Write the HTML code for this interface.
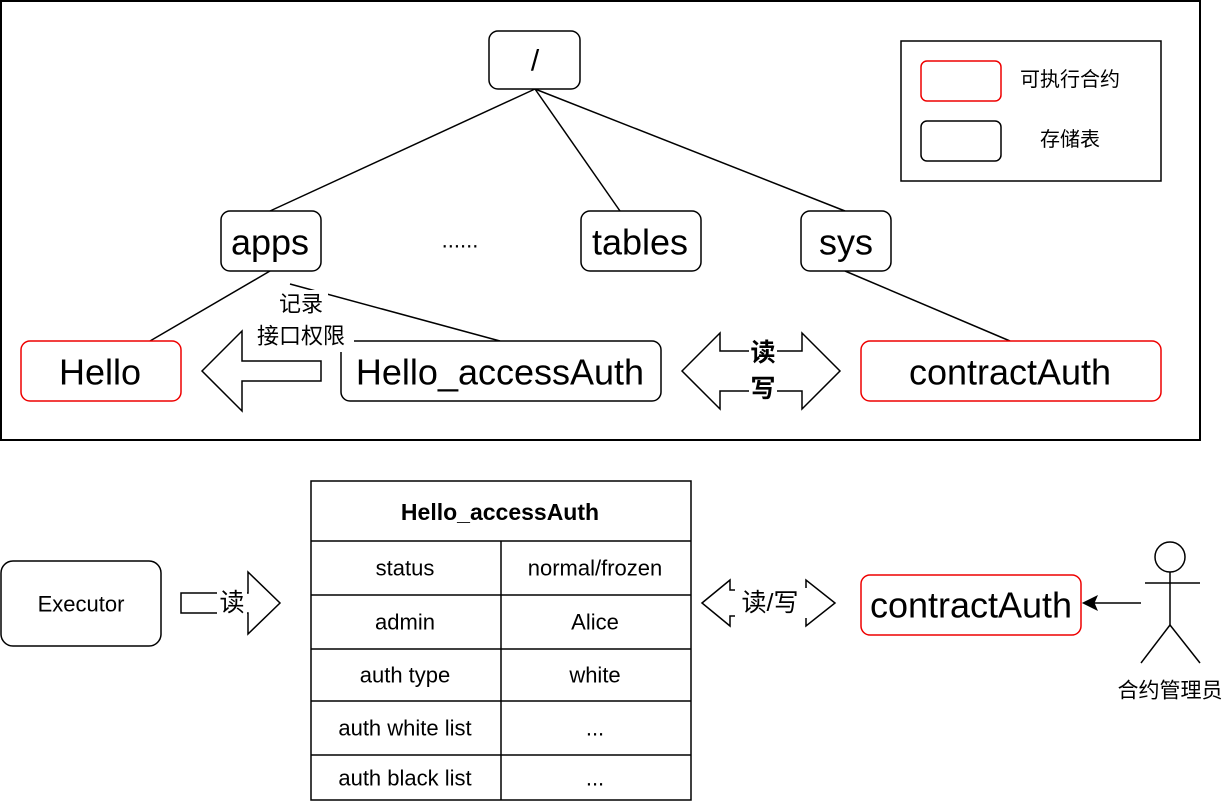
<!DOCTYPE html>
<html><head><meta charset="utf-8"><style>body{margin:0;background:#fff}svg{display:block}text{font-family:"Liberation Sans","Noto Sans CJK SC",sans-serif;fill:#000}</style></head><body>
<svg width="1232" height="802" viewBox="0 0 1232 802" xmlns="http://www.w3.org/2000/svg">
<g fill="none" stroke="#000" stroke-width="1.5">
<rect x="1" y="1" width="1199" height="439" stroke-width="2"/>
<line x1="535" y1="89" x2="270" y2="211"/>
<line x1="535" y1="89" x2="620" y2="211"/>
<line x1="535" y1="89" x2="845" y2="211"/>
<line x1="270" y1="271" x2="150" y2="341"/>
<line x1="290" y1="284" x2="500" y2="341"/>
<line x1="845" y1="271" x2="1010" y2="341"/>
<rect x="489" y="31" width="91" height="58" rx="9" fill="#fff"/>
<rect x="901" y="41" width="260" height="140"/>
<rect x="921" y="61" width="80" height="40" rx="6" stroke="#e00"/>
<rect x="921" y="121" width="80" height="40" rx="6"/>
<rect x="221" y="211" width="100" height="60" rx="9" fill="#fff"/>
<rect x="581" y="211" width="120" height="60" rx="9" fill="#fff"/>
<rect x="801" y="211" width="90" height="60" rx="9" fill="#fff"/>
<rect x="21" y="341" width="160" height="60" rx="9" stroke="#e00" fill="#fff"/>
<rect x="341" y="341" width="320" height="60" rx="9" fill="#fff"/>
<rect x="861" y="341" width="300" height="60" rx="9" stroke="#e00" fill="#fff"/>
<polygon points="202,371 242,331 242,361 321,361 321,381 242,381 242,411" fill="#fff"/>
<polygon points="682,371 720,333 720,351 802,351 802,333 840,371 802,409 802,391 720,391 720,409" fill="#fff"/>
<rect x="1" y="561" width="160" height="85" rx="12"/>
<polygon points="181,593 248,593 248,572 280,603 248,634 248,613 181,613" fill="#fff"/>
<rect x="311" y="481" width="380" height="319"/>
<line x1="311" y1="541" x2="691" y2="541"/><line x1="311" y1="595" x2="691" y2="595"/>
<line x1="311" y1="649" x2="691" y2="649"/><line x1="311" y1="701" x2="691" y2="701"/>
<line x1="311" y1="755" x2="691" y2="755"/><line x1="501" y1="541" x2="501" y2="800"/>
<polygon points="702,603 730,580 730,590 806,590 806,580 835,603 806,626 806,616 730,616 730,626" fill="#fff"/>
<rect x="861" y="575" width="220" height="60" rx="9" stroke="#e00"/>
<line x1="1141" y1="603" x2="1094" y2="603"/>
<circle cx="1170" cy="557" r="15"/>
<line x1="1170" y1="572" x2="1170" y2="625"/><line x1="1145" y1="583" x2="1200" y2="583"/>
<line x1="1170" y1="625" x2="1141" y2="663"/><line x1="1170" y1="625" x2="1200" y2="663"/>
</g>
<polygon points="1083,603 1097,596 1094,603 1097,610" fill="#000" stroke="#000"/>
<rect x="276" y="290" width="52" height="28" fill="#fff"/>
<rect x="248" y="320" width="106" height="32" fill="#fff"/>
<rect x="749" y="340" width="28" height="28" fill="#fff"/>
<rect x="749" y="376" width="28" height="28" fill="#fff"/>
<rect x="217" y="592" width="30" height="24" fill="#fff"/>
<rect x="735" y="588" width="72" height="30" fill="#fff"/>
<g text-anchor="middle" dominant-baseline="central">
<text x="535" y="61" font-size="30">/</text>
<text x="1070" y="80" font-size="20">可执行合约</text>
<text x="1070" y="140" font-size="20">存储表</text>
<text x="270" y="242" font-size="36">apps</text>
<text x="460" y="240" font-size="22">......</text>
<text x="640" y="242" font-size="36">tables</text>
<text x="846" y="242" font-size="36">sys</text>
<text x="100" y="372" font-size="36">Hello</text>
<text x="500" y="372" font-size="36">Hello_accessAuth</text>
<text x="1010" y="372" font-size="36">contractAuth</text>
<text x="301" y="304" font-size="22">记录</text>
<text x="301" y="336" font-size="22">接口权限</text>
<text x="763" y="353" font-size="25" font-weight="bold">读</text>
<text x="763" y="389" font-size="25" font-weight="bold">写</text>
<text x="81" y="604" font-size="22">Executor</text>
<text x="232" y="603" font-size="25">读</text>
<text x="500" y="512" font-size="23" font-weight="bold">Hello_accessAuth</text>
<text x="405" y="568" font-size="22">status</text><text x="595" y="568" font-size="22">normal/frozen</text>
<text x="405" y="622" font-size="22">admin</text><text x="595" y="622" font-size="22">Alice</text>
<text x="405" y="675" font-size="22">auth type</text><text x="595" y="675" font-size="22">white</text>
<text x="405" y="728" font-size="22">auth white list</text><text x="595" y="728" font-size="22">...</text>
<text x="405" y="778" font-size="22">auth black list</text><text x="595" y="778" font-size="22">...</text>
<text x="770" y="603" font-size="25">读/写</text>
<text x="971" y="605" font-size="36">contractAuth</text>
<text x="1170" y="691" font-size="21">合约管理员</text>
</g>
</svg>
</body></html>
